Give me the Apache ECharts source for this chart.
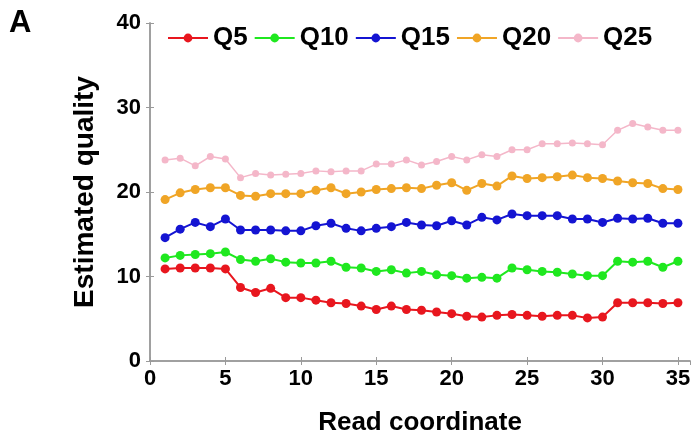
<!DOCTYPE html>
<html lang="en">
<head>
    <meta charset="UTF-8">
    <title>Estimated quality</title>
    <script src="https://cdn.jsdelivr.net/npm/echarts@6/dist/echarts.min.js"></script>
    <style>
        html, body { margin: 0; padding: 0; background: #fff; }
        #main { width: 700px; height: 444px; }
    </style>
</head>
<body>
<div id="main"></div>
<script>
    // read coordinate (x) for every series
    var readCoord = [1, 2, 3, 4, 5, 6, 7, 8, 9, 10, 11, 12, 13, 14, 15, 16, 17, 18,
        19, 20, 21, 22, 23, 24, 25, 26, 27, 28, 29, 30, 31, 32, 33, 34, 35];

    var q5 = [10.9, 11.0, 11.0, 11.0, 10.9, 8.7, 8.1, 8.6, 7.5, 7.5, 7.2, 6.9, 6.8, 6.5, 6.1, 6.5, 6.1,
        6.0, 5.8, 5.6, 5.3, 5.2, 5.4, 5.5, 5.4, 5.3, 5.4, 5.4, 5.1, 5.2, 6.9, 6.9, 6.9, 6.8, 6.9];
    var q10 = [12.2, 12.5, 12.6, 12.7, 12.9, 12.0, 11.8, 12.1, 11.7, 11.6, 11.6, 11.8, 11.1, 11.0, 10.6, 10.8, 10.4,
        10.6, 10.2, 10.1, 9.8, 9.9, 9.8, 11.0, 10.8, 10.6, 10.5, 10.3, 10.1, 10.1, 11.8, 11.7, 11.8, 11.1, 11.8];
    var q15 = [14.6, 15.6, 16.4, 15.9, 16.8, 15.5, 15.5, 15.5, 15.4, 15.4, 16.0, 16.3, 15.7, 15.4, 15.7, 15.9, 16.4,
        16.1, 16.0, 16.6, 16.1, 17.0, 16.7, 17.4, 17.2, 17.2, 17.2, 16.8, 16.8, 16.4, 16.9, 16.8, 16.9, 16.3, 16.3];
    var q20 = [19.1, 19.9, 20.3, 20.5, 20.5, 19.6, 19.5, 19.8, 19.8, 19.8, 20.2, 20.5, 19.8, 20.0, 20.3, 20.4, 20.5,
        20.4, 20.8, 21.1, 20.2, 21.0, 20.7, 21.9, 21.6, 21.7, 21.8, 22.0, 21.7, 21.6, 21.3, 21.1, 21.0, 20.4, 20.3];
    var q25 = [23.8, 24.0, 23.1, 24.2, 23.9, 21.7, 22.2, 22.0, 22.1, 22.2, 22.5, 22.4, 22.5, 22.5, 23.3, 23.3, 23.8,
        23.2, 23.6, 24.2, 23.8, 24.4, 24.2, 25.0, 25.0, 25.7, 25.7, 25.8, 25.7, 25.6, 27.3, 28.1, 27.7, 27.3, 27.3];

    var seriesNames = ['Q5', 'Q10', 'Q15', 'Q20', 'Q25'];
    var seriesColors = ['#e8161e', '#1fe81f', '#1414d2', '#f0a526', '#f4b7c9'];
    var yTicks = [0, 10, 20, 30, 40];

    function pairs(vals) {
        var out = [];
        for (var i = 0; i < vals.length; i++) {
            out.push([readCoord[i], vals[i]]);
        }
        return out;
    }

    var allValues = [q5, q10, q15, q20, q25];
    var series = [];
    for (var s = 0; s < allValues.length; s++) {
        series.push({
            name: seriesNames[s],
            type: 'line',
            data: pairs(allValues[s]),
            symbol: 'circle',
            symbolSize: s === 4 ? 7 : 9,
            lineStyle: {width: s === 4 ? 1.5 : 2, color: seriesColors[s]},
            itemStyle: {color: seriesColors[s]},
            emphasis: {disabled: true},
            z: 10 - s
        });
    }

    var axisGrey = '#9a9a9a';
    var font = '"Liberation Sans", Arial, Helvetica, sans-serif';

    option = {
        animation: false,
        textStyle: {fontFamily: font},
        color: seriesColors,
        graphic: [{
            type: 'text',
            left: 9,
            top: 8,
            style: {text: 'A', font: 'bold 31px ' + font, fill: '#000'}
        }],
        legend: {
            data: seriesNames,
            left: 167,
            top: 25,
            padding: 0,
            itemWidth: 40,
            itemHeight: 11,
            itemGap: 6,
            textStyle: {fontSize: 26, fontWeight: 'bold', color: '#000', width: 55}
        },
        grid: {left: 150, top: 23, width: 540, height: 338},
        xAxis: [{
            type: 'value',
            min: 0,
            max: 35.8,
            interval: 5,
            name: 'Read coordinate',
            nameLocation: 'middle',
            nameGap: 49,
            nameTextStyle: {fontSize: 26, fontWeight: 'bold', color: '#000'},
            axisLine: {lineStyle: {color: axisGrey, width: 1.5}},
            axisTick: {inside: true, length: 4, lineStyle: {color: axisGrey}},
            axisLabel: {fontSize: 22, fontWeight: 'bold', color: '#000', margin: 7, showMaxLabel: false},
            splitLine: {show: false}
        }, {
            type: 'value',
            position: 'top',
            min: 0,
            max: 35.8,
            interval: 5,
            axisLine: {lineStyle: {color: axisGrey, width: 1.5}},
            axisTick: {inside: true, length: 4, lineStyle: {color: axisGrey}},
            axisLabel: {show: false},
            splitLine: {show: false}
        }],
        yAxis: [{
            type: 'value',
            min: yTicks[0],
            max: yTicks[yTicks.length - 1],
            interval: 10,
            name: 'Estimated quality',
            nameLocation: 'middle',
            nameGap: 51,
            nameTextStyle: {fontSize: 28, fontWeight: 'bold', color: '#000'},
            axisLine: {show: true, lineStyle: {color: axisGrey, width: 1.5}},
            axisTick: {show: true, inside: true, length: 4, lineStyle: {color: axisGrey}},
            axisLabel: {fontSize: 22, fontWeight: 'bold', color: '#000', margin: 9},
            splitLine: {show: false}
        }, {
            type: 'value',
            position: 'right',
            min: yTicks[0],
            max: yTicks[yTicks.length - 1],
            interval: 10,
            axisLine: {show: true, lineStyle: {color: axisGrey, width: 1.5}},
            axisTick: {show: true, inside: true, length: 4, lineStyle: {color: axisGrey}},
            axisLabel: {show: false},
            splitLine: {show: false}
        }],
        series: series
    };

    var myChart = echarts.init(document.getElementById('main'));
    myChart.setOption(option);
</script>
</body>
</html>
